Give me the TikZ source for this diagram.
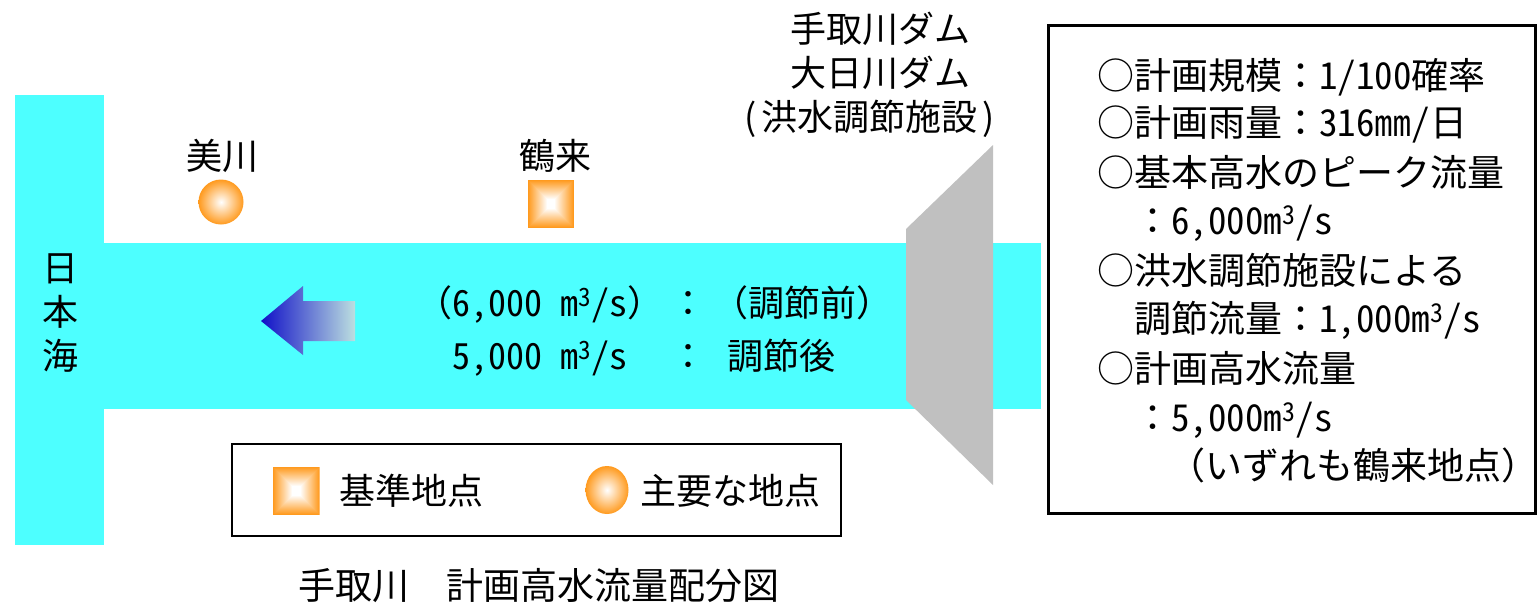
\documentclass[tikz,border=0pt]{standalone}
\usepackage{fontspec}
\setmainfont{Noto Sans CJK JP}
\newfontfamily\hw{Noto Sans CJK JP}[RawFeature=+hwid]
\usetikzlibrary{shapes.geometric}
\definecolor{sea}{HTML}{4DFFFF}
\definecolor{damgray}{HTML}{C0C0C0}
\definecolor{mkorange}{HTML}{FF9A1E}
\definecolor{arrdark}{HTML}{1010C8}
\definecolor{arrlight}{HTML}{BCDFE0}
\begin{document}
\begin{tikzpicture}[x=1pt,y=-1pt,
  txt/.style={inner sep=0, font=\fontsize{36}{40}\selectfont, anchor=base west},
  btxt/.style={inner sep=0, font=\fontsize{37}{41}\selectfont, anchor=base west},
  ctxt/.style={inner sep=0, font=\fontsize{36}{40}\selectfont, anchor=base},
  frame/.style={draw=black, line width=3pt},
  ballmark/.style={circle, inner sep=0, minimum size=45pt, inner color=white, outer color=mkorange},
  ovalmark/.style={ellipse, inner sep=0, minimum width=43pt, minimum height=48pt, inner color=white, outer color=mkorange},
  sqmark/.style={rectangle, inner sep=0, minimum width=#1, minimum height=48pt,
    path picture={\foreach \k in {0,...,24}{\pgfmathsetmacro\pc{max(0,100*(1-\k/19))}
      \fill[mkorange!\pc!white] ([shift={(\k pt,\k pt)}]path picture bounding box.south west) rectangle ([shift={(-\k pt,-\k pt)}]path picture bounding box.north east);}}},
  sqmark/.default=46pt
]
\useasboundingbox (0,0) rectangle (1538,608);
% sea and river
\fill[sea] (15,95) rectangle (104,545);
\fill[sea] (104,243) rectangle (1041,409);
% dam
\fill[damgray] (906,229) -- (993,145) -- (993,485) -- (906,400) -- cycle;
% flow arrow
\shade[left color=arrdark, right color=arrlight] (261,321) -- (303,286) -- (303,301) -- (355,301) -- (355,341) -- (303,341) -- (303,355) -- cycle;
% sea label
\node[ctxt] (s1) at (60,281) {日};
\node[ctxt] (s2) at (60,325) {本};
\node[ctxt] (s3) at (60,369) {海};
% points
\node[ctxt] (mikawa) at (222,169) {美川};
\node[ballmark] (mikawaM) at (221,202) {};
\node[ctxt] (tsurugi) at (555,169) {鶴来};
\node[sqmark] (tsurugiM) at (551,204) {};
% flow texts
\node[txt] (f1a) at (416,316) {（{\hw 6,000\ m\textsuperscript{3}/s}）};
\node[ctxt] (c1) at (688,316) {：};
\node[txt] (f1b) at (712,316) {（調節前）};
\node[txt] (f2a) at (452,369) {{\hw 5,000\ m\textsuperscript{3}/s}};
\node[ctxt] (c2) at (688,369) {：};
\node[txt] (f2b) at (727,369) {調節後};
% dam labels
\node[ctxt] (d1) at (880,42) {手取川ダム};
\node[ctxt] (d2) at (880,86) {大日川ダム};
\node[ctxt] (d3) at (870,130) {(\hspace{5pt}洪水調節施設\hspace{5pt})};
% legend
\draw[line width=2.5pt] (232,444) rectangle (841,536);
\node[sqmark=47pt] (legSq) at (296,491) {};
\node[txt] (legSqT) at (339,504) {基準地点};
\node[ovalmark] (legCi) at (607,490) {};
\node[txt] (legCiT) at (640,504) {主要な地点};
% info box
\draw[frame] (1048,25) rectangle (1535,513);
\node[btxt] (i1) at (1097,89) {○計画規模：{\hw 1/100}確率};
\node[btxt] (i2) at (1097,136) {○計画雨量：{\hw 316}㎜{\hw /}日};
\node[btxt] (i3) at (1097,186) {○基本高水のピーク流量};
\node[btxt] (i4) at (1134,234) {：{\hw 6,000m\textsuperscript{3}/s}};
\node[btxt] (i5) at (1097,284) {○洪水調節施設による};
\node[btxt] (i6) at (1134,332) {調節流量：{\hw 1,000m\textsuperscript{3}/s}};
\node[btxt] (i7) at (1097,382) {○計画高水流量};
\node[btxt] (i8) at (1134,431) {：{\hw 5,000m\textsuperscript{3}/s}};
\node[btxt] (i9) at (1168,479) {（いずれも鶴来地点）};
% caption
\node[btxt] (cap) at (298,599) {手取川　計画高水流量配分図};
\end{tikzpicture}
\end{document}
